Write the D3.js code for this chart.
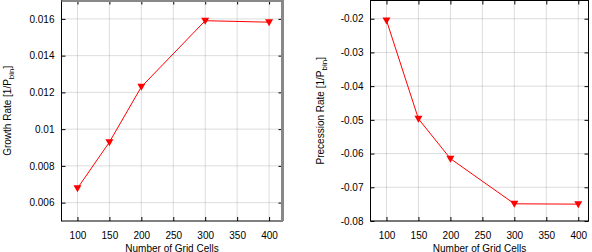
<!DOCTYPE html>
<head>
<script src="https://d3js.org/d3.v7.min.js"></script>
<style>
body { margin: 0; background: #fff; font-family: "Liberation Sans", Arial, sans-serif; }
text { font-family: "Liberation Sans", Arial, sans-serif; fill: #000; }
</style>
</head>
<body>
<svg></svg>
<script>
var cells = [100, 150, 200, 300, 400];
var growth = [0.00678, 0.00929, 0.0123, 0.0159, 0.01582];
var precession = [-0.0205, -0.0497, -0.0615, -0.0749, -0.075];
var xTicks = [100, 150, 200, 250, 300, 350, 400];
var growthTicks = [0.006, 0.008, 0.01, 0.012, 0.014, 0.016];
var precTicks = [-0.08, -0.07, -0.06, -0.05, -0.04, -0.03, -0.02];

var svg = d3.select("svg").attr("width", 592).attr("height", 252);

function panel(o) {
    var x = d3.scaleLinear().domain(o.xdom).range([o.left, o.right]);
    var y = d3.scaleLinear().domain(o.ydom).range([o.bottom, o.top]);
    var g = svg.append("g");

    // grid
    g.selectAll(".gx").data(xTicks).enter().append("line")
        .attr("x1", d => x(d)).attr("x2", d => x(d))
        .attr("y1", o.top).attr("y2", o.bottom)
        .attr("stroke", "#aaa").attr("stroke-width", 0.8).attr("stroke-dasharray", "1,1");
    g.selectAll(".gy").data(o.yticks).enter().append("line")
        .attr("x1", o.left).attr("x2", o.right)
        .attr("y1", d => y(d)).attr("y2", d => y(d))
        .attr("stroke", "#aaa").attr("stroke-width", 0.8).attr("stroke-dasharray", "1,1");

    // axes (inward ticks, mirrored)
    g.append("g").attr("transform", "translate(0," + o.bottom + ")")
        .call(d3.axisBottom(x).tickValues(xTicks).tickSize(-4).tickPadding(11).tickFormat(d3.format("d")))
        .call(a => a.select(".domain").remove());
    g.append("g").attr("transform", "translate(0," + o.top + ")")
        .call(d3.axisTop(x).tickValues(xTicks).tickSize(-4).tickFormat(""))
        .call(a => a.select(".domain").remove());
    g.append("g").attr("transform", "translate(" + o.left + ",0)")
        .call(d3.axisLeft(y).tickValues(o.yticks).tickSize(-4).tickPadding(7).tickFormat(d => String(d)))
        .call(a => a.select(".domain").remove());
    g.append("g").attr("transform", "translate(" + o.right + ",0)")
        .call(d3.axisRight(y).tickValues(o.yticks).tickSize(-4).tickFormat(""))
        .call(a => a.select(".domain").remove());
    g.selectAll(".tick line").attr("stroke", "#000");
    g.selectAll(".tick text").attr("font-size", 10).attr("fill", "#000")
        .style("font-family", "Liberation Sans, Arial, sans-serif");

    // frame
    g.append("rect").attr("x", o.left).attr("y", o.top)
        .attr("width", o.right - o.left).attr("height", o.bottom - o.top)
        .attr("fill", "none").attr("stroke", "#000").attr("stroke-width", 1);
    if (o.grayEdge) {
        g.append("line").attr("x1", o.left).attr("x2", o.right + 1.5)
            .attr("y1", o.top).attr("y2", o.top)
            .attr("stroke", "#888").attr("stroke-width", 3);
        g.append("line").attr("x1", o.right).attr("x2", o.right)
            .attr("y1", o.top).attr("y2", o.bottom)
            .attr("stroke", "#888").attr("stroke-width", 3);
    }

    // line + markers
    var line = d3.line().x((d, i) => x(cells[i])).y(d => y(d));
    g.append("path").datum(o.values).attr("d", line)
        .attr("fill", "none").attr("stroke", "#ff0000").attr("stroke-width", 1);
    g.selectAll(".pt").data(o.values).enter().append("path")
        .attr("transform", (d, i) => "translate(" + x(cells[i]) + "," + y(d) + ")")
        .attr("d", "M-4,-3L4,-3L0,4Z")
        .attr("fill", "#ff0000");

    // labels
    g.append("text").attr("x", (o.left + o.right) / 2).attr("y", 251.5)
        .attr("text-anchor", "middle").attr("font-size", 10).text("Number of Grid Cells");
    var yl = g.append("text")
        .attr("transform", "translate(" + o.ylabX + "," + (o.top + o.bottom) / 2 + ") rotate(-90)")
        .attr("text-anchor", "middle").attr("font-size", 10);
    yl.append("tspan").text(o.ylabel + " [1/P");
    yl.append("tspan").attr("font-size", 8).attr("dy", 3).text("bin");
    yl.append("tspan").attr("dy", -3).text("]");
}

panel({left: 61.5, right: 282.5, top: 0.5, bottom: 221, xdom: [75, 421], ydom: [0.005, 0.017],
       yticks: growthTicks, values: growth, ylabel: "Growth Rate", ylabX: 11, grayEdge: true});
panel({left: 370.5, right: 588.5, top: 0.5, bottom: 221, xdom: [75, 416], ydom: [-0.08, -0.0146],
       yticks: precTicks, values: precession, ylabel: "Precession Rate", ylabX: 324, grayEdge: false});
</script>
</body>
